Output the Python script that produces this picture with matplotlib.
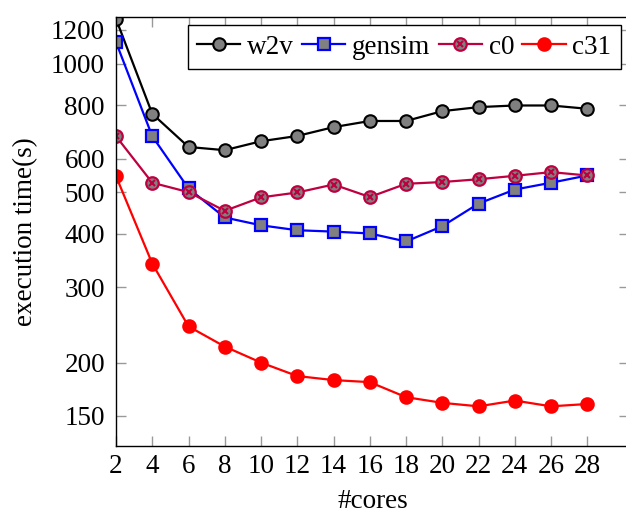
import matplotlib.pyplot as plt
from matplotlib.lines import Line2D

plt.rcParams['font.family'] = ['Liberation Serif', 'DejaVu Serif']
plt.rcParams['font.size'] = 19.5

cores = [2, 4, 6, 8, 10, 12, 14, 16, 18, 20, 22, 24, 26, 28]
w2v = [1274, 764, 639, 628, 659, 678, 711, 735, 735, 775, 792, 799, 799, 785]
gensim = [1124, 677, 511, 437, 419, 408, 405, 401, 384, 417, 471, 508, 527, 548]
c0 = [677, 527, 501, 453, 487, 500, 522, 488, 524, 529, 537, 547, 558, 548]
c31 = [546, 341, 243, 218, 200, 186, 182, 180, 166, 161, 158, 163, 158, 160]

yticks = [150, 200, 300, 400, 500, 600, 800, 1000, 1200]

purple = '#BF0040'

fig = plt.figure(figsize=(6.26, 5.14), dpi=100)
ax = fig.add_axes([116 / 626, 68 / 514, 513 / 626, 429 / 514])

ax.plot(cores, w2v, color='black', lw=1.6, marker='o', ms=9,
        mfc='gray', mec='black', mew=1.5, label='w2v')
ax.plot(cores, gensim, color='blue', lw=1.6, marker='s', ms=8,
        mfc='gray', mec='blue', mew=1.6, label='gensim')
ax.plot(cores, c0, color=purple, lw=1.6, marker='o', ms=9,
        mfc='gray', mec=purple, mew=1.6)
ax.plot(cores, c0, ls='none', marker='x', ms=5, mec=purple, mew=1.5)
ax.plot(cores, c31, color='red', lw=1.6, marker='o', ms=9,
        mfc='red', mec='red', mew=1.5, label='c31')

ax.set_yscale('log')
ax.set_ylim(127.6, 1287)
ax.set_xlim(2, 30.3)
ax.set_yticks(yticks)
ax.set_yticklabels([str(v) for v in yticks])
ax.yaxis.set_minor_locator(plt.NullLocator())
ax.set_xticks(cores)

ax.tick_params(direction='in', length=7, width=1, color='#999999',
               top=True, right=True, labelsize=19.5)
ax.tick_params(axis='y', pad=8)
ax.tick_params(axis='x', pad=6)
for s in ax.spines.values():
    s.set_linewidth(1)

ax.set_xlabel('#cores', labelpad=7)
ax.set_ylabel('execution time(s)', labelpad=9)

# c0 legend entry: circle with a cross inside
h = ax.get_legend_handles_labels()[0]
c0_handle = (Line2D([], [], color=purple, lw=1.6, marker='o', ms=9, mfc='gray', mec=purple, mew=1.6),
             Line2D([], [], ls='none', marker='x', ms=5, mec=purple, mew=1.5))
handles = [h[0], h[1], c0_handle, h[2]]
labels = ['w2v', 'gensim', 'c0', 'c31']
leg = ax.legend(handles, labels, loc='upper right', ncol=4, fancybox=False,
                edgecolor='black', framealpha=1, handlelength=1.6,
                handletextpad=0.25, columnspacing=0.3, borderpad=0.35,
                borderaxespad=0.3, fontsize=19.5)
leg.get_frame().set_linewidth(1)

fig.savefig('out.png', dpi=100)
